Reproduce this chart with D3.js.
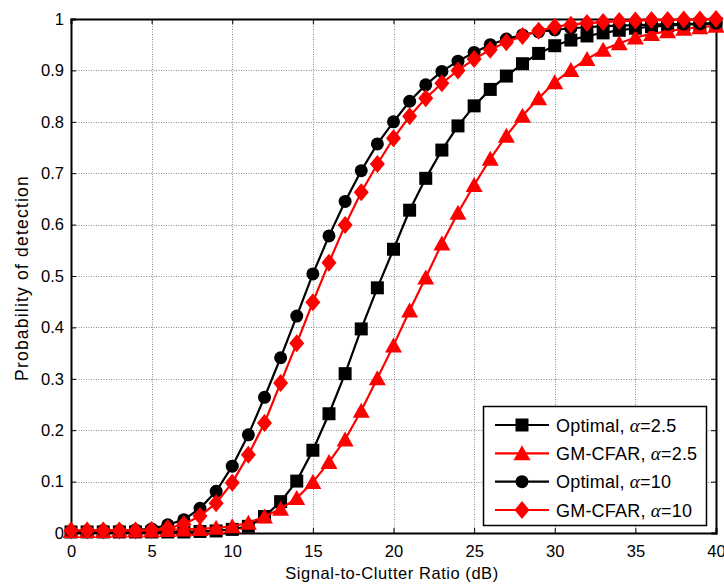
<!DOCTYPE html>
<html><head><meta charset="utf-8">
<script src="https://cdn.jsdelivr.net/npm/d3@7"></script>
<style>
body{margin:0;background:#fff;}
svg{display:block;}
text{font-family:"Liberation Sans",Arial,sans-serif;fill:#000;}
</style></head>
<body>
<svg id="chart" width="724" height="585"></svg>
<script>
const snr = d3.range(0, 41);
const optimal25 = [0.002,0.002,0.002,0.002,0.002,0.002,0.002,0.002,0.003,0.004,0.007,0.013,0.032,0.061,0.101,0.161,0.232,0.310,0.397,0.477,0.552,0.628,0.690,0.745,0.792,0.831,0.863,0.889,0.913,0.933,0.948,0.959,0.967,0.973,0.978,0.982,0.985,0.987,0.989,0.990,0.991];
const gmcfar25 = [0.004,0.004,0.004,0.005,0.005,0.005,0.006,0.007,0.008,0.010,0.013,0.020,0.032,0.047,0.068,0.099,0.138,0.182,0.238,0.301,0.365,0.433,0.497,0.563,0.623,0.677,0.728,0.773,0.812,0.846,0.877,0.901,0.922,0.940,0.953,0.964,0.971,0.976,0.981,0.984,0.987];
const optimal10 = [0.004,0.004,0.005,0.005,0.006,0.008,0.016,0.026,0.048,0.081,0.130,0.191,0.264,0.341,0.422,0.504,0.578,0.645,0.705,0.757,0.800,0.840,0.872,0.898,0.918,0.935,0.950,0.961,0.969,0.975,0.979,0.982,0.984,0.986,0.987,0.988,0.989,0.990,0.990,0.991,0.992];
const gmcfar10 = [0.005,0.005,0.005,0.005,0.005,0.006,0.009,0.017,0.033,0.058,0.098,0.152,0.214,0.292,0.369,0.449,0.526,0.599,0.663,0.718,0.768,0.811,0.846,0.875,0.900,0.922,0.940,0.955,0.967,0.977,0.985,0.989,0.992,0.994,0.996,0.997,0.998,0.998,0.999,0.999,1.000];
const xTicks = [0,5,10,15,20,25,30,35,40];
const yTicks = [0,0.1,0.2,0.3,0.4,0.5,0.6,0.7,0.8,0.9,1];
const yTickLabels = ["0","0.1","0.2","0.3","0.4","0.5","0.6","0.7","0.8","0.9","1"];
const seriesNames = ["Optimal, ","GM-CFAR, ","Optimal, ","GM-CFAR, "];
const alphaValues = ["=2.5","=2.5","=10","=10"];
const xLabel = "Signal-to-Clutter Ratio (dB)";
const yLabel = "Probability of detection";

const series = [
  {name: seriesNames[0], alpha: alphaValues[0], values: optimal25, color: "#000000", marker: "square"},
  {name: seriesNames[1], alpha: alphaValues[1], values: gmcfar25, color: "#ff0000", marker: "triangle"},
  {name: seriesNames[2], alpha: alphaValues[2], values: optimal10, color: "#000000", marker: "circle"},
  {name: seriesNames[3], alpha: alphaValues[3], values: gmcfar10, color: "#ff0000", marker: "diamond"}
];

const L = 71, R = 716, T = 19, B = 533;
const svg = d3.select("#chart");
const x = d3.scaleLinear().domain([0, 40]).range([L, R]);
const y = d3.scaleLinear().domain([0, 1]).range([B, T]);

function markerPath(type) {
  const p = d3.path();
  if (type === "square") { const h = 6.5; p.rect(-h, -h, 2*h, 2*h); }
  else if (type === "circle") { p.arc(0, 0, 6.5, 0, 2*Math.PI); }
  else if (type === "triangle") { p.moveTo(0, -8); p.lineTo(8.5, 7); p.lineTo(-8.5, 7); p.closePath(); }
  else if (type === "diamond") { p.moveTo(0, -9); p.lineTo(7.5, 0); p.lineTo(0, 9); p.lineTo(-7.5, 0); p.closePath(); }
  return p.toString();
}

// grid
const grid = svg.append("g").attr("stroke", "#8a8a8a").attr("stroke-width", 1).attr("stroke-dasharray", "1,1.5");
grid.selectAll("line.gx").data(xTicks.slice(1, -1)).enter().append("line")
  .attr("x1", d => Math.round(x(d)) + 0.5).attr("x2", d => Math.round(x(d)) + 0.5).attr("y1", T).attr("y2", B);
grid.selectAll("line.gy").data(yTicks.slice(1, -1)).enter().append("line")
  .attr("y1", d => Math.round(y(d)) + 0.5).attr("y2", d => Math.round(y(d)) + 0.5).attr("x1", L).attr("x2", R);

// axes
const axB = svg.append("g").attr("transform", `translate(0,${B})`)
  .call(d3.axisBottom(x).tickValues(xTicks).tickSize(-5).tickPadding(12).tickFormat(d3.format("d")));
const axT = svg.append("g").attr("transform", `translate(0,${T})`)
  .call(d3.axisTop(x).tickValues(xTicks).tickSize(-5).tickFormat(""));
const axL = svg.append("g").attr("transform", `translate(${L},0)`)
  .call(d3.axisLeft(y).tickValues(yTicks).tickSize(-5).tickPadding(7).tickFormat((d, i) => yTickLabels[i]));
const axR = svg.append("g").attr("transform", `translate(${R},0)`)
  .call(d3.axisRight(y).tickValues(yTicks).tickSize(-5).tickFormat(""));
[axB, axT, axL, axR].forEach(a => {
  a.select(".domain").attr("stroke", "#000").attr("stroke-width", 2);
  a.selectAll(".tick line").attr("stroke", "#000").attr("stroke-width", 1);
  a.selectAll("text").attr("font-size", 16.5).attr("font-family", "Liberation Sans, Arial, sans-serif").attr("fill", "#000");
});

// series
const line = d3.line().x((d, i) => x(snr[i])).y(d => y(d));
series.forEach(s => {
  const g = svg.append("g");
  g.append("path").attr("d", line(s.values)).attr("fill", "none").attr("stroke", s.color).attr("stroke-width", 2.2);
  g.selectAll("path.m").data(s.values).enter().append("path").attr("class", "m")
    .attr("d", markerPath(s.marker))
    .attr("transform", (d, i) => `translate(${x(snr[i])},${y(d)})`)
    .attr("fill", s.color);
});

// labels
svg.append("text").attr("x", 392).attr("y", 579).attr("text-anchor", "middle")
  .attr("font-size", 16.5).attr("letter-spacing", 0.55).text(xLabel);
svg.append("text").attr("transform", "translate(28,278) rotate(-90)").attr("text-anchor", "middle")
  .attr("font-size", 17.5).attr("letter-spacing", 1.2).text(yLabel);

// legend
const lg = svg.append("g");
const lx0 = 483, ly0 = 406, lw = 223, lh = 119;
lg.append("rect").attr("x", lx0 + 0.5).attr("y", ly0 + 0.5).attr("width", lw).attr("height", lh)
  .attr("fill", "#fff").attr("stroke", "#000").attr("stroke-width", 1.5);
const rowY = d3.scalePoint().domain(d3.range(series.length)).range([425, 510]);
series.forEach((s, i) => {
  const yy = rowY(i);
  lg.append("line").attr("x1", 495).attr("x2", 549).attr("y1", yy).attr("y2", yy).attr("stroke", s.color).attr("stroke-width", 2.2);
  lg.append("path").attr("d", markerPath(s.marker)).attr("transform", `translate(522,${yy})`).attr("fill", s.color);
  const t = lg.append("text").attr("x", 556).attr("y", yy + 6.5).attr("font-size", 18).attr("letter-spacing", 0.2);
  t.append("tspan").text(s.name);
  t.append("tspan").attr("font-family", "Liberation Serif, Times New Roman, serif").attr("font-style", "italic").attr("font-size", 19).text("\u03b1");
  t.append("tspan").text(s.alpha);
});
</script>
</body></html>
